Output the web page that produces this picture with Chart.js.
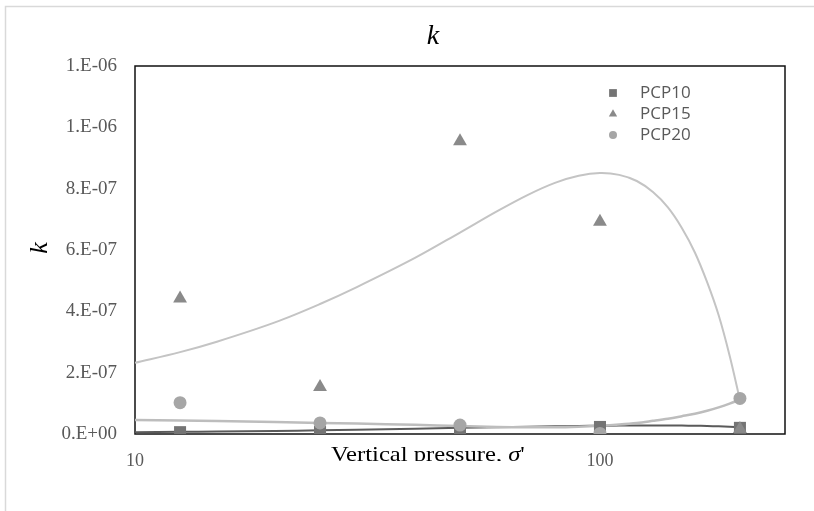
<!DOCTYPE html>
<html>
<head>
<meta charset="utf-8">
<script src="https://cdn.jsdelivr.net/npm/chart.js@4/dist/chart.umd.min.js"></script>
<style>
  html, body { margin: 0; padding: 0; background: #fff; }
  #wrap { width: 814px; height: 511px; }
</style>
</head>
<body>
<div id="wrap"><canvas id="kChart" width="814" height="511"></canvas></div>
<script>
// vertical pressure (kPa) of each test step
const pressure = [12.5, 25, 50, 100, 200];

// permeability k per mix
const pcp10 = [6e-9, 7e-9, 6e-9, 2.3e-8, 2e-8];
const pcp15 = [4.42e-7, 1.53e-7, 9.55e-7, 6.92e-7, 1.6e-8];
const pcp20 = [1.02e-7, 3.6e-8, 2.9e-8, 2e-9, 1.16e-7];

// trendline curves
const trendPressure = [10, 12.5, 15, 20, 25, 30, 40, 50, 60, 70, 80, 90, 100, 110, 120, 130, 140, 150, 160, 170, 180, 190, 200];
const trend10 = [6e-9, 7e-9, 8e-9, 1.0e-8, 1.2e-8, 1.4e-8, 1.7e-8, 2.0e-8, 2.2e-8, 2.4e-8, 2.5e-8, 2.6e-8, 2.7e-8, 2.75e-8, 2.8e-8, 2.8e-8, 2.8e-8, 2.75e-8, 2.7e-8, 2.6e-8, 2.5e-8, 2.35e-8, 2.2e-8];
const trend15 = [2.32e-7, 2.67e-7, 3.01e-7, 3.64e-7, 4.24e-7, 4.79e-7, 5.74e-7, 6.57e-7, 7.26e-7, 7.80e-7, 8.19e-7, 8.42e-7, 8.51e-7, 8.45e-7, 8.25e-7, 7.89e-7, 7.39e-7, 6.72e-7, 5.92e-7, 4.95e-7, 3.87e-7, 2.56e-7, 1.11e-7];
const trend20 = [4.6e-8, 4.4e-8, 4.2e-8, 3.9e-8, 3.6e-8, 3.4e-8, 3.0e-8, 2.6e-8, 2.3e-8, 2.2e-8, 2.2e-8, 2.4e-8, 2.7e-8, 3.1e-8, 3.6e-8, 4.3e-8, 5.0e-8, 5.8e-8, 6.6e-8, 7.6e-8, 8.7e-8, 9.9e-8, 1.12e-7];

// axis ticks
const xTicks = [10, 100];
const yTicks = [0, 2e-7, 4e-7, 6e-7, 8e-7, 1e-6, 1.2e-6];

const GRIS_OSCURO = '#747474';
const GRIS_MEDIO  = '#8a8a8a';
const GRIS_CLARO  = '#a6a6a6';
const TEXTO_EJE   = '#595959';
const SERIF = '"Liberation Serif", "Times New Roman", serif';

const toXY = (xs, ys) => xs.map((x, i) => ({ x: x, y: ys[i] }));

// Excel style "0.E+00"
function formatoExp(v) {
  if (v === 0) return '0.E+00';
  let exp = Math.floor(Math.log10(Math.abs(v)));
  let mant = Math.round(v / Math.pow(10, exp));
  if (mant >= 10) { mant = mant / 10; exp += 1; }
  const signo = exp < 0 ? '-' : '+';
  return mant + '.E' + signo + String(Math.abs(exp)).padStart(2, '0');
}

// white page + thin grey chart frame
const fondo = {
  id: 'fondo',
  beforeDraw(chart) {
    const ctx = chart.ctx;
    ctx.save();
    ctx.fillStyle = '#fff';
    ctx.fillRect(0, 0, chart.width, chart.height);
    ctx.strokeStyle = '#d9d9d9';
    ctx.lineWidth = 1.5;
    ctx.strokeRect(5.5, 6.5, chart.width + 20, chart.height + 20);
    ctx.restore();
  }
};

// black box round the plot area
const marco = {
  id: 'marco',
  beforeDatasetsDraw(chart) {
    const { ctx, chartArea: a } = chart;
    ctx.save();
    ctx.strokeStyle = '#111';
    ctx.lineWidth = 1.5;
    ctx.strokeRect(a.left, a.top, a.right - a.left, a.bottom - a.top);
    ctx.restore();
  }
};

// titles: chart "k", y axis "k", x axis text cut at its baseline
const titulos = {
  id: 'titulos',
  afterDraw(chart) {
    const ctx = chart.ctx;
    ctx.save();
    ctx.fillStyle = '#000';
    ctx.textAlign = 'center';
    ctx.textBaseline = 'middle';
    ctx.font = 'italic 28px ' + SERIF;
    ctx.fillText('k', 433, 37);

    ctx.save();
    ctx.translate(40, 248);
    ctx.rotate(-Math.PI / 2);
    ctx.font = 'italic 26px ' + SERIF;
    ctx.fillText('k', 0, 0);
    ctx.restore();

    ctx.beginPath();
    ctx.rect(0, 0, chart.width, 461);
    ctx.clip();
    ctx.translate(331, 461);
    ctx.scale(1.12, 1);
    ctx.textAlign = 'left';
    ctx.textBaseline = 'alphabetic';
    let x = 0;
    const partes = [
      ['Vertical pressure, ', '22px '],
      ['\u03c3', 'italic 22px '],
      ["'", '22px ']
    ];
    partes.forEach(([txt, f]) => {
      ctx.font = f + SERIF;
      ctx.fillText(txt, x, 0);
      x += ctx.measureText(txt).width;
    });
    ctx.restore();
  }
};

// legend inside the plot, upper right
const leyenda = {
  id: 'leyenda',
  afterDraw(chart) {
    const ctx = chart.ctx;
    const a = chart.chartArea;
    const items = chart.data.datasets.filter(d => d.enLeyenda);
    ctx.save();
    ctx.font = '17px "Open Sans", sans-serif';
    ctx.textBaseline = 'middle';
    ctx.textAlign = 'left';
    items.forEach((d, i) => {
      const y = a.top + 27 + i * 21;
      const mx = a.left + 478;
      ctx.fillStyle = d.backgroundColor;
      Chart.helpers.drawPoint(ctx, {
        pointStyle: d.pointStyle, radius: d.legendRadius, rotation: 0, borderWidth: 0
      }, mx, y);
      ctx.fillStyle = TEXTO_EJE;
      ctx.fillText(d.label, a.left + 505, y);
    });
    ctx.restore();
  }
};

function serieTrend(ys, color, ancho, orden) {
  return {
    label: '',
    data: toXY(trendPressure, ys),
    showLine: true,
    borderColor: color,
    borderWidth: ancho,
    pointRadius: 0,
    tension: 0.35,
    fill: false,
    order: orden
  };
}

function serieMarcas(label, ys, color, estilo, radio, radioLey, orden) {
  return {
    label: label,
    data: toXY(pressure, ys),
    showLine: false,
    pointStyle: estilo,
    pointRadius: radio,
    pointHoverRadius: radio,
    backgroundColor: color,
    borderColor: color,
    borderWidth: 0,
    legendRadius: radioLey,
    enLeyenda: true,
    order: orden
  };
}

const ctx = document.getElementById('kChart').getContext('2d');
new Chart(ctx, {
  type: 'scatter',
  data: {
    datasets: [
      serieMarcas('PCP10', pcp10, GRIS_OSCURO, 'rect', 8.5, 5.5, 5),
      serieMarcas('PCP15', pcp15, GRIS_MEDIO, 'triangle', 8, 4.8, 4),
      serieMarcas('PCP20', pcp20, GRIS_CLARO, 'circle', 6.5, 4, 3),
      serieTrend(trend10, '#5a5a5a', 2, 8),
      serieTrend(trend15, '#c4c4c4', 2, 7),
      serieTrend(trend20, '#bdbdbd', 2.5, 6)
    ]
  },
  options: {
    responsive: false,
    animation: false,
    events: [],
    layout: { padding: { left: 0, top: 66, right: 29, bottom: 0 } },
    plugins: {
      legend: { display: false },
      tooltip: { enabled: false }
    },
    scales: {
      x: {
        type: 'logarithmic',
        min: 10,
        max: 250,
        grid: { display: false, drawTicks: false },
        border: { display: false },
        afterBuildTicks: s => { s.ticks = xTicks.map(v => ({ value: v })); },
        afterFit: s => { s.height = 77; },
        ticks: {
          autoSkip: false,
          maxRotation: 0,
          padding: 16,
          color: TEXTO_EJE,
          font: { family: SERIF, size: 18 },
          callback: v => String(v)
        }
      },
      y: {
        min: 0,
        max: 1.2e-6,
        grid: { display: false, drawTicks: false },
        border: { display: false },
        afterBuildTicks: s => { s.ticks = yTicks.map(v => ({ value: v })); },
        afterFit: s => { s.width = 135; },
        ticks: {
          padding: 18,
          color: TEXTO_EJE,
          font: { family: SERIF, size: 19 },
          callback: v => formatoExp(v)
        }
      }
    }
  },
  plugins: [fondo, marco, titulos, leyenda]
});
</script>
</body>
</html>
